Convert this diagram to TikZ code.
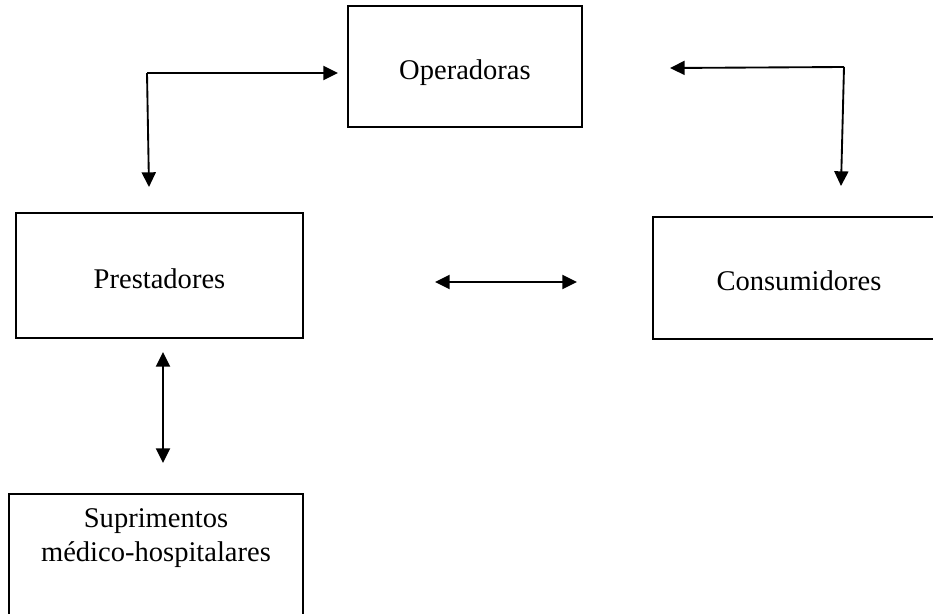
\documentclass[tikz,border=0pt]{standalone}
\usepackage{fontspec}
\setmainfont{Liberation Serif}
\usetikzlibrary{arrows.meta}

\begin{document}
\begin{tikzpicture}[x=0.75pt,y=-0.75pt,
    caixa/.style={draw, line width=1.4pt, inner sep=0pt},
    seta/.style={line width=1.4pt, -{Triangle[length=11pt,width=10.5pt]}},
    setadupla/.style={line width=1.4pt, {Triangle[length=11pt,width=10.5pt]}-{Triangle[length=11pt,width=10.5pt]}}]
  \useasboundingbox (0,0) rectangle (933,614);
  \fontsize{21.4}{25}\selectfont

  \node[caixa, minimum width=175.5pt, minimum height=90.75pt] (oper) at (465,66.5) {};
  \node[caixa, minimum width=215.25pt, minimum height=93.75pt] (prest) at (159.5,275.5) {};
  \node[caixa, minimum width=219pt, minimum height=91.5pt] (cons) at (799,278) {};
  \node[caixa, minimum width=220.5pt, minimum height=120pt, anchor=north] (supr) at (156,493) {};

  \node (opertxt) at (465,73) {Operadoras};
  \node (presttxt) at (159.5,279) {Prestadores};
  \node (constxt) at (799,281) {Consumidores};
  \node[align=center] (suprtxt) at (156,538) {Suprimentos\\médico-hospitalares};

  % setas entre as caixas
  \coordinate (esq) at (147,73);
  \coordinate (esqA) at (338,73);
  \coordinate (esqB) at (149,187);
  \coordinate (dir) at (844,67);
  \coordinate (dirA) at (670,68);
  \coordinate (dirB) at (841,186);
  \coordinate (meioA) at (435,282);
  \coordinate (meioB) at (577,282);
  \coordinate (baixoA) at (163,352);
  \coordinate (baixoB) at (163,463);

  \draw[seta] (esq) -- (esqA);
  \draw[seta] (esq) -- (esqB);
  \draw[seta] (dir) -- (dirA);
  \draw[seta] (dir) -- (dirB);
  \draw[setadupla] (meioA) -- (meioB);
  \draw[setadupla] (baixoA) -- (baixoB);
\end{tikzpicture}
\end{document}
